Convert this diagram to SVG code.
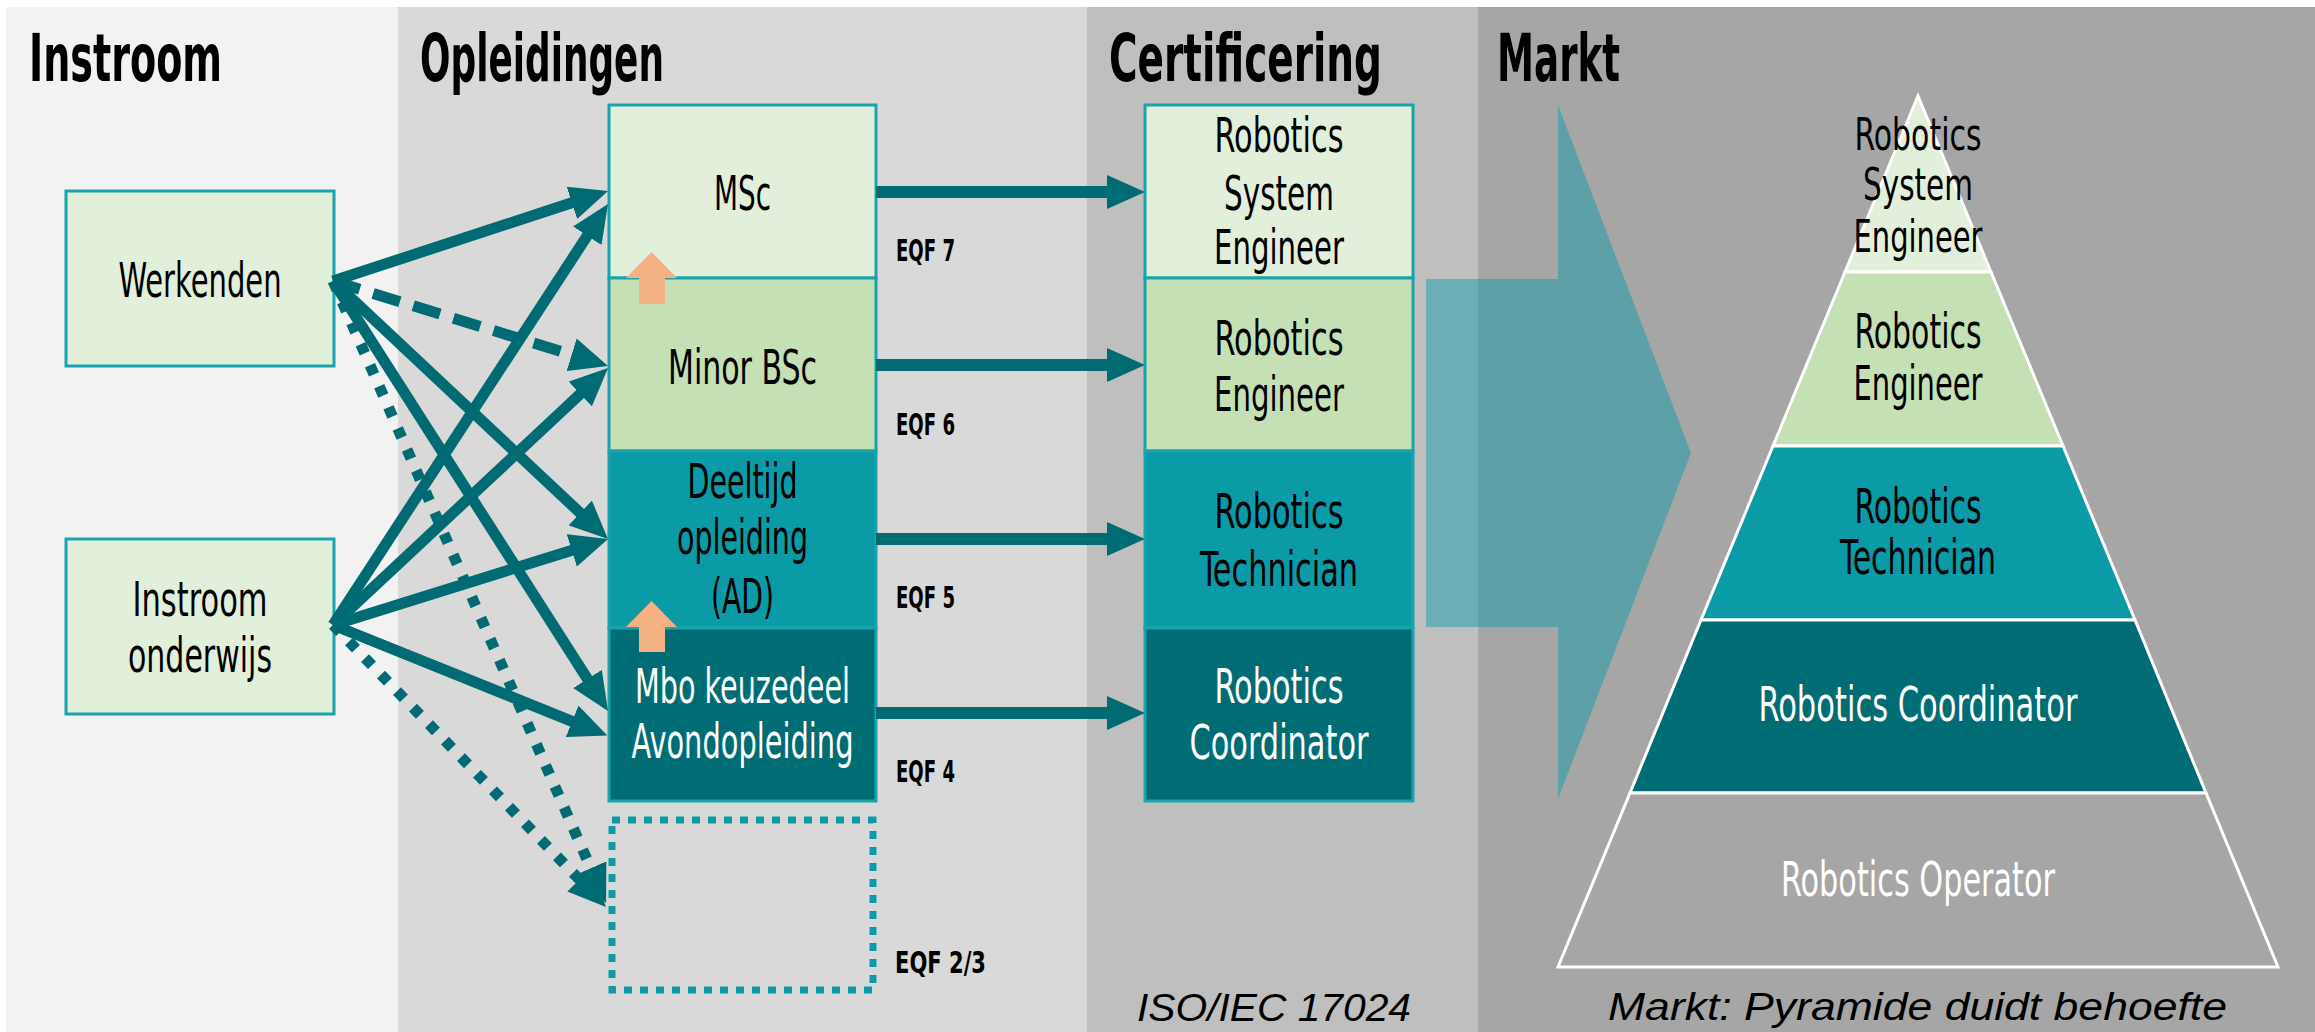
<svg xmlns="http://www.w3.org/2000/svg" width="2315" height="1032" viewBox="0 0 2315 1032">
<style>
.t{font-family:'DejaVu Sans Condensed','DejaVu Sans',sans-serif;font-size:48px;text-anchor:middle;fill:#000}
.s{font-size:44px}
.w{fill:#fff}
.h{font-family:'DejaVu Sans Condensed','DejaVu Sans',sans-serif;font-size:66px;font-weight:bold;fill:#000}
.e{font-family:'DejaVu Sans Condensed','DejaVu Sans',sans-serif;font-size:30px;font-weight:bold;fill:#000}
.i{font-family:'Liberation Sans',Arial,sans-serif;font-size:39px;font-style:italic;fill:#000}
.box{stroke:#1AA3AB;stroke-width:3}
.c{stroke:#006B73;stroke-width:11;fill:none}
.hz{stroke:#006B73;stroke-width:12;fill:none}
.pyr{stroke:#fff;stroke-width:3}
.up{fill:#F4B183}
</style>
<defs>
<marker id="ah" markerUnits="userSpaceOnUse" markerWidth="38" markerHeight="34" refX="8" refY="17" orient="auto">
<path d="M0,0 L38,17 L0,34 z" fill="#006B73"/>
</marker>
</defs>
<rect x="0" y="0" width="2315" height="1032" fill="#fff"/>
<g id="panels">
<rect x="6" y="7" width="392" height="1025" fill="#F2F2F2"/>
<rect x="398" y="7" width="689" height="1025" fill="#D9D9D9"/>
<rect x="1087" y="7" width="391" height="1025" fill="#BFBFBF"/>
<rect x="1478" y="7" width="837" height="1025" fill="#A6A6A6"/>
<text class="h" transform="matrix(0.62 0 0 1 29 81)" textLength="311.3" lengthAdjust="spacingAndGlyphs">Instroom</text>
<text class="h" transform="matrix(0.62 0 0 1 420 81)" textLength="393.5" lengthAdjust="spacingAndGlyphs">Opleidingen</text>
<text class="h" transform="matrix(0.62 0 0 1 1109 81)" textLength="440.3" lengthAdjust="spacingAndGlyphs">Certificering</text>
<text class="h" transform="matrix(0.62 0 0 1 1497 81)" textLength="198.4" lengthAdjust="spacingAndGlyphs">Markt</text>
</g>
<g id="big-arrow">
<polygon points="1426,279 1558,279 1558,105 1691,453 1558,799 1558,627 1426,627" fill="#0098AA" fill-opacity="0.44"/>
</g>
<g id="werkenden">
<rect class="box" x="66" y="191" width="268" height="175" fill="#E2EFDA"/>
<text class="t" transform="matrix(0.7 0 0 1 200 297)" textLength="232.9" lengthAdjust="spacingAndGlyphs">Werkenden</text>
</g>
<g id="instroom-onderwijs">
<rect class="box" x="66" y="539" width="268" height="175" fill="#E2EFDA"/>
<text class="t" transform="matrix(0.7 0 0 1 200 616)" textLength="192.9" lengthAdjust="spacingAndGlyphs">Instroom</text>
<text class="t" transform="matrix(0.7 0 0 1 200 672)" textLength="205.7" lengthAdjust="spacingAndGlyphs">onderwijs</text>
</g>
<g id="msc">
<rect class="box" x="609" y="105" width="267" height="173" fill="#E2EFDA"/>
<text class="t" transform="matrix(0.7 0 0 1 742.5 210)" textLength="81.4" lengthAdjust="spacingAndGlyphs">MSc</text>
</g>
<g id="minor-bsc">
<rect class="box" x="609" y="278" width="267" height="173" fill="#C5E0B4"/>
<text class="t" transform="matrix(0.7 0 0 1 742.5 384)" textLength="212.9" lengthAdjust="spacingAndGlyphs">Minor BSc</text>
</g>
<g id="deeltijd">
<rect class="box" x="609" y="451" width="267" height="177" fill="#0A9BA6"/>
<text class="t" transform="matrix(0.7 0 0 1 742.5 498)" textLength="157.1" lengthAdjust="spacingAndGlyphs">Deeltijd</text>
<text class="t" transform="matrix(0.7 0 0 1 742.5 554)" textLength="187.1" lengthAdjust="spacingAndGlyphs">opleiding</text>
<text class="t" transform="matrix(0.7 0 0 1 742.5 613)" textLength="90" lengthAdjust="spacingAndGlyphs">(AD)</text>
</g>
<g id="mbo">
<rect class="box" x="609" y="628" width="267" height="173" fill="#006C73"/>
<text class="t w" transform="matrix(0.7 0 0 1 742.5 703)" textLength="307.1" lengthAdjust="spacingAndGlyphs">Mbo keuzedeel</text>
<text class="t w" transform="matrix(0.7 0 0 1 742.5 758)" textLength="317.1" lengthAdjust="spacingAndGlyphs">Avondopleiding</text>
</g>
<g id="eqf23-box">
<rect x="612" y="820" width="261" height="170" fill="none" stroke="#0A9BA6" stroke-width="7" stroke-dasharray="8 8"/>
</g>
<g id="eqf-labels">
<text class="e" transform="matrix(0.7 0 0 1 896 261)" textLength="84.3" lengthAdjust="spacingAndGlyphs">EQF 7</text>
<text class="e" transform="matrix(0.7 0 0 1 896 435)" textLength="84.3" lengthAdjust="spacingAndGlyphs">EQF 6</text>
<text class="e" transform="matrix(0.7 0 0 1 896 608)" textLength="84.3" lengthAdjust="spacingAndGlyphs">EQF 5</text>
<text class="e" transform="matrix(0.7 0 0 1 896 782)" textLength="84.3" lengthAdjust="spacingAndGlyphs">EQF 4</text>
<text class="e" transform="matrix(0.7 0 0 1 895 973)" textLength="130" lengthAdjust="spacingAndGlyphs">EQF 2/3</text>
</g>
<g id="up-arrows">
<polygon class="up" points="651.5,252 677,278 665,278 665,304 639,304 639,278 626,278"/>
<polygon class="up" points="651.5,601 677,627 665,627 665,652 639,652 639,627 626,627"/>
</g>
<g id="cert-system-engineer">
<rect class="box" x="1145" y="105" width="268" height="173" fill="#E2EFDA"/>
<text class="t" transform="matrix(0.7 0 0 1 1279 152)" textLength="184.3" lengthAdjust="spacingAndGlyphs">Robotics</text>
<text class="t" transform="matrix(0.7 0 0 1 1279 210)" textLength="157.1" lengthAdjust="spacingAndGlyphs">System</text>
<text class="t" transform="matrix(0.7 0 0 1 1279 264)" textLength="185.7" lengthAdjust="spacingAndGlyphs">Engineer</text>
</g>
<g id="cert-engineer">
<rect class="box" x="1145" y="278" width="268" height="173" fill="#C5E0B4"/>
<text class="t" transform="matrix(0.7 0 0 1 1279 355)" textLength="184.3" lengthAdjust="spacingAndGlyphs">Robotics</text>
<text class="t" transform="matrix(0.7 0 0 1 1279 411)" textLength="185.7" lengthAdjust="spacingAndGlyphs">Engineer</text>
</g>
<g id="cert-technician">
<rect class="box" x="1145" y="451" width="268" height="177" fill="#0A9BA6"/>
<text class="t" transform="matrix(0.7 0 0 1 1279 528)" textLength="184.3" lengthAdjust="spacingAndGlyphs">Robotics</text>
<text class="t" transform="matrix(0.7 0 0 1 1279 586)" textLength="225.7" lengthAdjust="spacingAndGlyphs">Technician</text>
</g>
<g id="cert-coordinator">
<rect class="box" x="1145" y="628" width="268" height="173" fill="#006C73"/>
<text class="t w" transform="matrix(0.7 0 0 1 1279 703)" textLength="184.3" lengthAdjust="spacingAndGlyphs">Robotics</text>
<text class="t w" transform="matrix(0.7 0 0 1 1279 759)" textLength="255.7" lengthAdjust="spacingAndGlyphs">Coordinator</text>
</g>
<text class="i" x="1137" y="1021" textLength="274" lengthAdjust="spacingAndGlyphs">ISO/IEC 17024</text>
<g id="connectors">
<line class="c" x1="333" y1="281" x2="579.5" y2="200.3" marker-end="url(#ah)"/>
<line class="c" x1="333" y1="281" x2="579.3" y2="357.1" stroke-dasharray="28 14" marker-end="url(#ah)"/>
<line class="c" x1="333" y1="281" x2="586.1" y2="518.5" marker-end="url(#ah)"/>
<line class="c" x1="333" y1="281" x2="591.8" y2="685.7" marker-end="url(#ah)"/>
<line class="c" x1="333" y1="281" x2="594" y2="875.5" stroke-dasharray="10 13" marker-end="url(#ah)"/>
<line class="c" x1="333" y1="625" x2="591.6" y2="229.1" marker-end="url(#ah)"/>
<line class="c" x1="333" y1="625" x2="586.1" y2="388.5" marker-end="url(#ah)"/>
<line class="c" x1="333" y1="625" x2="579.4" y2="548" marker-end="url(#ah)"/>
<line class="c" x1="333" y1="625" x2="579.5" y2="724.3" marker-end="url(#ah)"/>
<line class="c" x1="333" y1="625" x2="585.1" y2="885.4" stroke-dasharray="10 13" marker-end="url(#ah)"/>
<line class="hz" x1="876" y1="192" x2="1115" y2="192" marker-end="url(#ah)"/>
<line class="hz" x1="876" y1="365" x2="1115" y2="365" marker-end="url(#ah)"/>
<line class="hz" x1="876" y1="539" x2="1115" y2="539" marker-end="url(#ah)"/>
<line class="hz" x1="876" y1="713" x2="1115" y2="713" marker-end="url(#ah)"/>
</g>
<g id="pyramid">
<polygon class="pyr" points="1918,96 1991,272 1845,272" fill="#E2EFDA"/>
<polygon class="pyr" points="1845,272 1991,272 2063,446 1773,446" fill="#C5E0B4"/>
<polygon class="pyr" points="1773,446 2063,446 2135,620 1701,620" fill="#0A9BA6"/>
<polygon class="pyr" points="1701,620 2135,620 2206,793 1630,793" fill="#006C73"/>
<polygon class="pyr" points="1630,793 2206,793 2278,967 1558,967" fill="#A6A6A6"/>
<text class="t s" transform="matrix(0.7 0 0 1 1918 150)" textLength="181.4" lengthAdjust="spacingAndGlyphs">Robotics</text>
<text class="t s" transform="matrix(0.7 0 0 1 1918 200)" textLength="157.1" lengthAdjust="spacingAndGlyphs">System</text>
<text class="t s" transform="matrix(0.7 0 0 1 1918 252)" textLength="184.3" lengthAdjust="spacingAndGlyphs">Engineer</text>
<text class="t" transform="matrix(0.7 0 0 1 1918 348)" textLength="181.4" lengthAdjust="spacingAndGlyphs">Robotics</text>
<text class="t" transform="matrix(0.7 0 0 1 1918 400)" textLength="184.3" lengthAdjust="spacingAndGlyphs">Engineer</text>
<text class="t" transform="matrix(0.7 0 0 1 1918 523)" textLength="181.4" lengthAdjust="spacingAndGlyphs">Robotics</text>
<text class="t" transform="matrix(0.7 0 0 1 1918 574)" textLength="222.9" lengthAdjust="spacingAndGlyphs">Technician</text>
<text class="t w" transform="matrix(0.7 0 0 1 1918 721)" textLength="455.7" lengthAdjust="spacingAndGlyphs">Robotics Coordinator</text>
<text class="t w" transform="matrix(0.7 0 0 1 1918 896)" textLength="391.4" lengthAdjust="spacingAndGlyphs">Robotics Operator</text>
</g>
<text class="i" x="1608" y="1020" textLength="619" lengthAdjust="spacingAndGlyphs">Markt: Pyramide duidt behoefte</text>
</svg>
